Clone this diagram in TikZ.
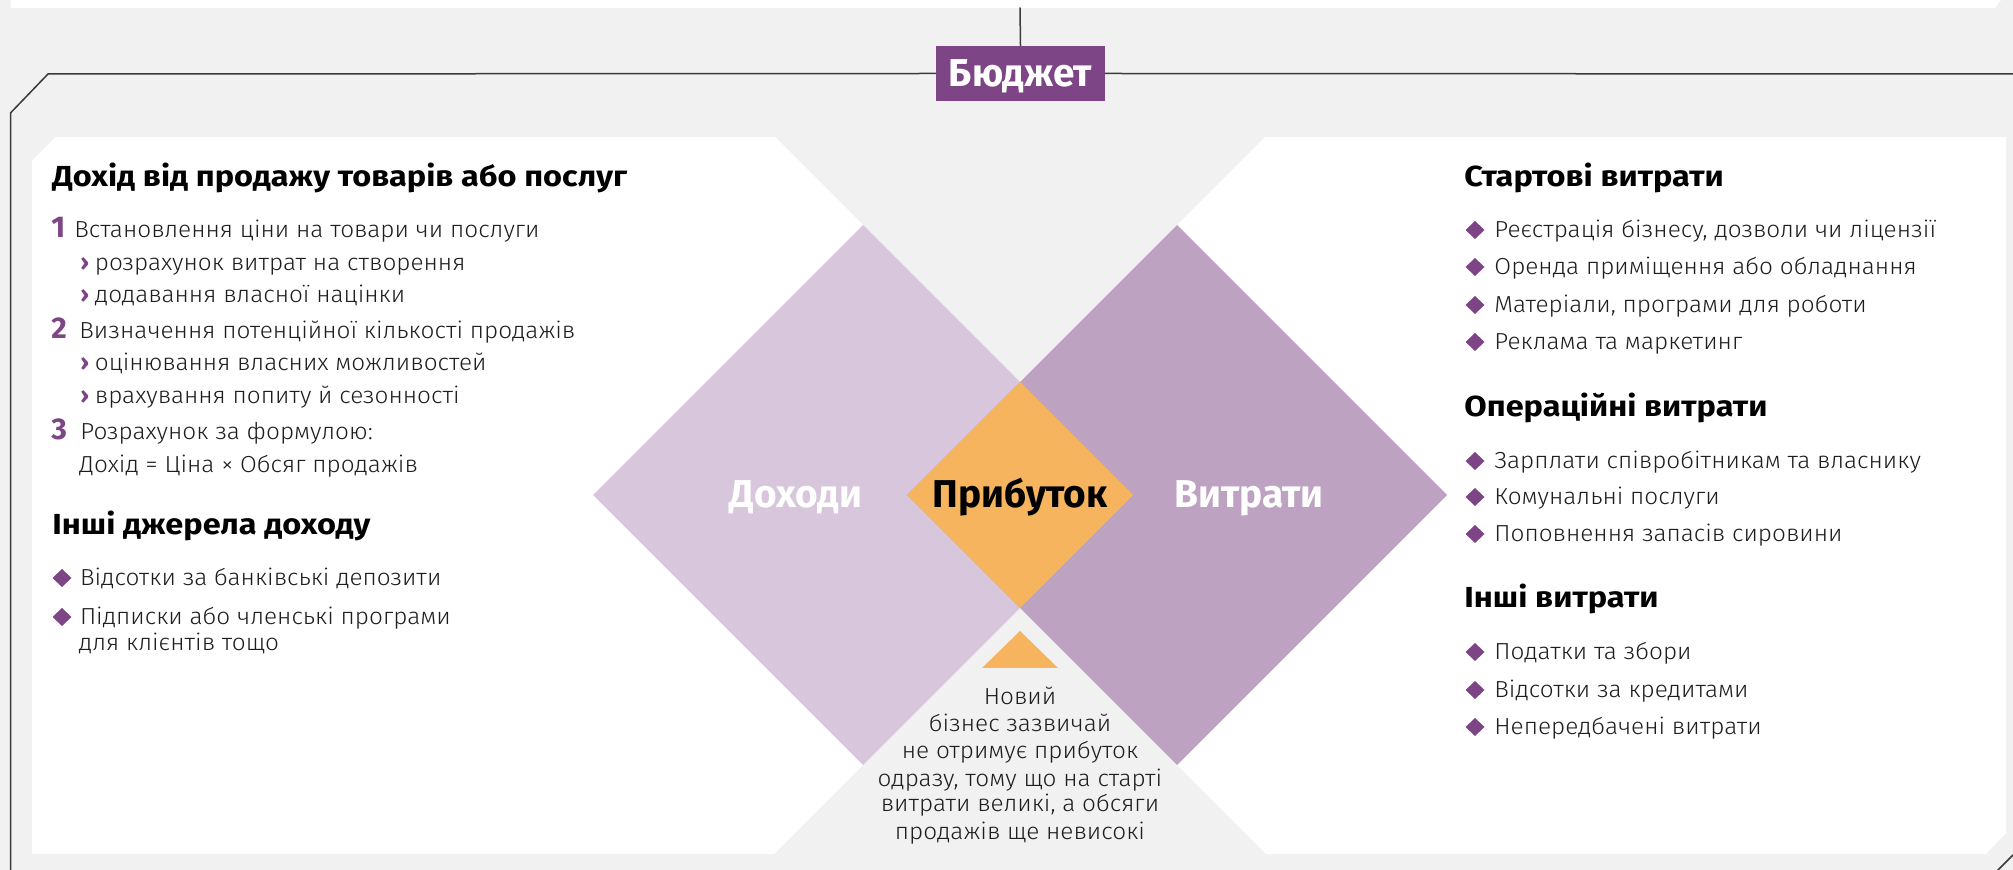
\documentclass[tikz,border=0pt]{standalone}
\usepackage{fontspec}
\setmainfont{Fira Sans}[UprightFont={* Light}, BoldFont={* Bold}, FakeStretch=1.05]
\newfontfamily\headfont{Fira Sans}[UprightFont={* Bold}, BoldFont={* Bold}, FakeStretch=1.12]
\newfontfamily\labelfont{Fira Sans}[UprightFont={* Bold}, BoldFont={* Bold}]
\definecolor{paper}{HTML}{F1F1F1}
\definecolor{rule}{HTML}{3A3A3A}
\definecolor{accent}{HTML}{7D4585}
\definecolor{lilac}{HTML}{D8C7DC}
\definecolor{mauve}{HTML}{BDA2C2}
\definecolor{amber}{HTML}{F6B45F}
\definecolor{ink}{HTML}{1E1E1E}
\begin{document}
\begin{tikzpicture}[line cap=round, line join=round, x=0.5pt, y=-0.5pt,
        frameline/.style={draw=rule, line width=0.75pt},
        bodytext/.style={anchor=base west, inner sep=0pt, text=ink, font=\fontsize{11.6}{13}\selectfont},
        headtext/.style={anchor=base west, inner sep=0pt, text=black, font=\fontsize{14.5}{16}\selectfont\headfont},
        numtext/.style={anchor=base west, inner sep=0pt, text=accent, font=\fontsize{15}{16}\selectfont\labelfont},
        chevtext/.style={anchor=base west, inner sep=0pt, text=accent, font=\fontsize{11.6}{13}\selectfont\bfseries},
        bigtext/.style={anchor=base, inner sep=0pt, font=\fontsize{19.4}{20}\selectfont\labelfont},
        notetext/.style={anchor=base, inner sep=0pt, text=ink, font=\fontsize{11.6}{13}\selectfont},
        bulletfill/.style={fill=accent}]
    \useasboundingbox (0,0) rectangle (2013,870);
    \fill[paper] (0,0) rectangle (2013,870);
    \fill[white] (10.5,0) -- (2001,0) -- (1995,8) -- (10.5,8) -- cycle;
    \coordinate (c) at (1020,495);
    \coordinate (top) at (1020,382);
    \coordinate (bot) at (1020,608);
    \fill[white] (56,137) -- (775,137) -- (top) -- (bot) -- (774,854) -- (32,854) -- (32,161) -- cycle;
    \fill[white] (1265,137) -- (2006,137) -- (2006,833) -- (1986,854) -- (1266,854) -- (bot) -- (top) -- cycle;
    \fill[lilac] (593,495) -- (863,225) -- (1133,495) -- (863,765) -- cycle;
    \fill[mauve] (907,495) -- (1177,225) -- (1447,495) -- (1177,765) -- cycle;
    \fill[amber] (907,495) -- (top) -- (1133,495) -- (bot) -- cycle;
    \fill[amber] (1020,631) -- (1058,668) -- (982,668) -- cycle;
    \node[fill=accent, text=white, minimum width=84.5pt, minimum height=27.5pt, inner sep=0pt,
        text height=13.4pt, text depth=0pt, font=\fontsize{19.4}{20}\selectfont\labelfont] (budget) at (1020.5,73.5) {Бюджет};
    \draw[frameline] (1020,8) -- (budget.north);
    \draw[frameline] (budget.west) -- (48,74) -- (10.5,113) -- (10.5,870);
    \draw[frameline] (budget.east) -- (2013,74);
    \draw[frameline] (1998,870) -- (2013,855);
    \node[bigtext, text=white] (income) at (796,508) {Доходи};
    \node[bigtext, text=black] (profit) at (1020,508) {Прибуток};
    \node[bigtext, text=white] (costs) at (1249,508) {Витрати};
    \node[headtext] (sales) at (52,187) {Дохід від продажу товарів або послуг};
    \node[numtext] (n1) at (51,238) {1};
    \node[bodytext] (s1) at (74,238) {Встановлення ціни на товари чи послуги};
    \node[numtext] (n2) at (51,339) {2};
    \node[bodytext] (s2) at (79,339) {Визначення потенційної кількості продажів};
    \node[numtext] (n3) at (51,440) {3};
    \node[bodytext] (s3) at (80,440) {Розрахунок за формулою:};
    \node[bodytext] (formula) at (79,473) {Дохід = Ціна × Обсяг продажів};
    \foreach \y/\txt [count=\i] in {271/розрахунок витрат на створення, 303/додавання власної націнки,
            371/оцінювання власних можливостей, 404/врахування попиту й сезонності} {
        \node[chevtext] (ch\i) at (80,\y) {›};
        \node[bodytext] (sub\i) at (94.5,\y) {\txt};
    }
    \node[headtext] (other) at (52,535) {Інші джерела доходу};
    \foreach \y/\txt [count=\i] in {578/Відсотки за банківські депозити, 617/Підписки або членські програми} {
        \fill[bulletfill] (62,\y) ++(-9.5,0) -- ++(9.5,-9) -- ++(9.5,9) -- ++(-9.5,9) -- cycle;
        \node[bodytext] (oth\i) at (79.6,\y+8) {\txt};
    }
    \node[bodytext] (oth3) at (78.5,651) {для клієнтів тощо};
    \node[headtext] (start) at (1464,187) {Стартові витрати};
    \node[headtext] (oper) at (1464,417) {Операційні витрати};
    \node[headtext] (misc) at (1464,608) {Інші витрати};
    \foreach \y/\txt [count=\i] in {230/{Реєстрація бізнесу, дозволи чи ліцензії}, 267/Оренда приміщення або обладнання,
            305/{Матеріали, програми для роботи}, 342/Реклама та маркетинг,
            461/Зарплати співробітникам та власнику, 497/Комунальні послуги, 534/Поповнення запасів сировини,
            652/Податки та збори, 690/Відсотки за кредитами, 727/Непередбачені витрати} {
        \fill[bulletfill] (1475,\y) ++(-9.5,0) -- ++(9.5,-9) -- ++(9.5,9) -- ++(-9.5,9) -- cycle;
        \node[bodytext] (cost\i) at (1494,\y+8) {\txt};
    }
    \foreach \y/\txt [count=\i] in {705/Новий, 732/бізнес зазвичай, 759/не отримує прибуток,
            786/{одразу, тому що на старті}, 812/{витрати великі, а обсяги}, 839/продажів ще невисокі}
        \node[notetext] (note\i) at (1020,\y) {\txt};
\end{tikzpicture}
\end{document}
